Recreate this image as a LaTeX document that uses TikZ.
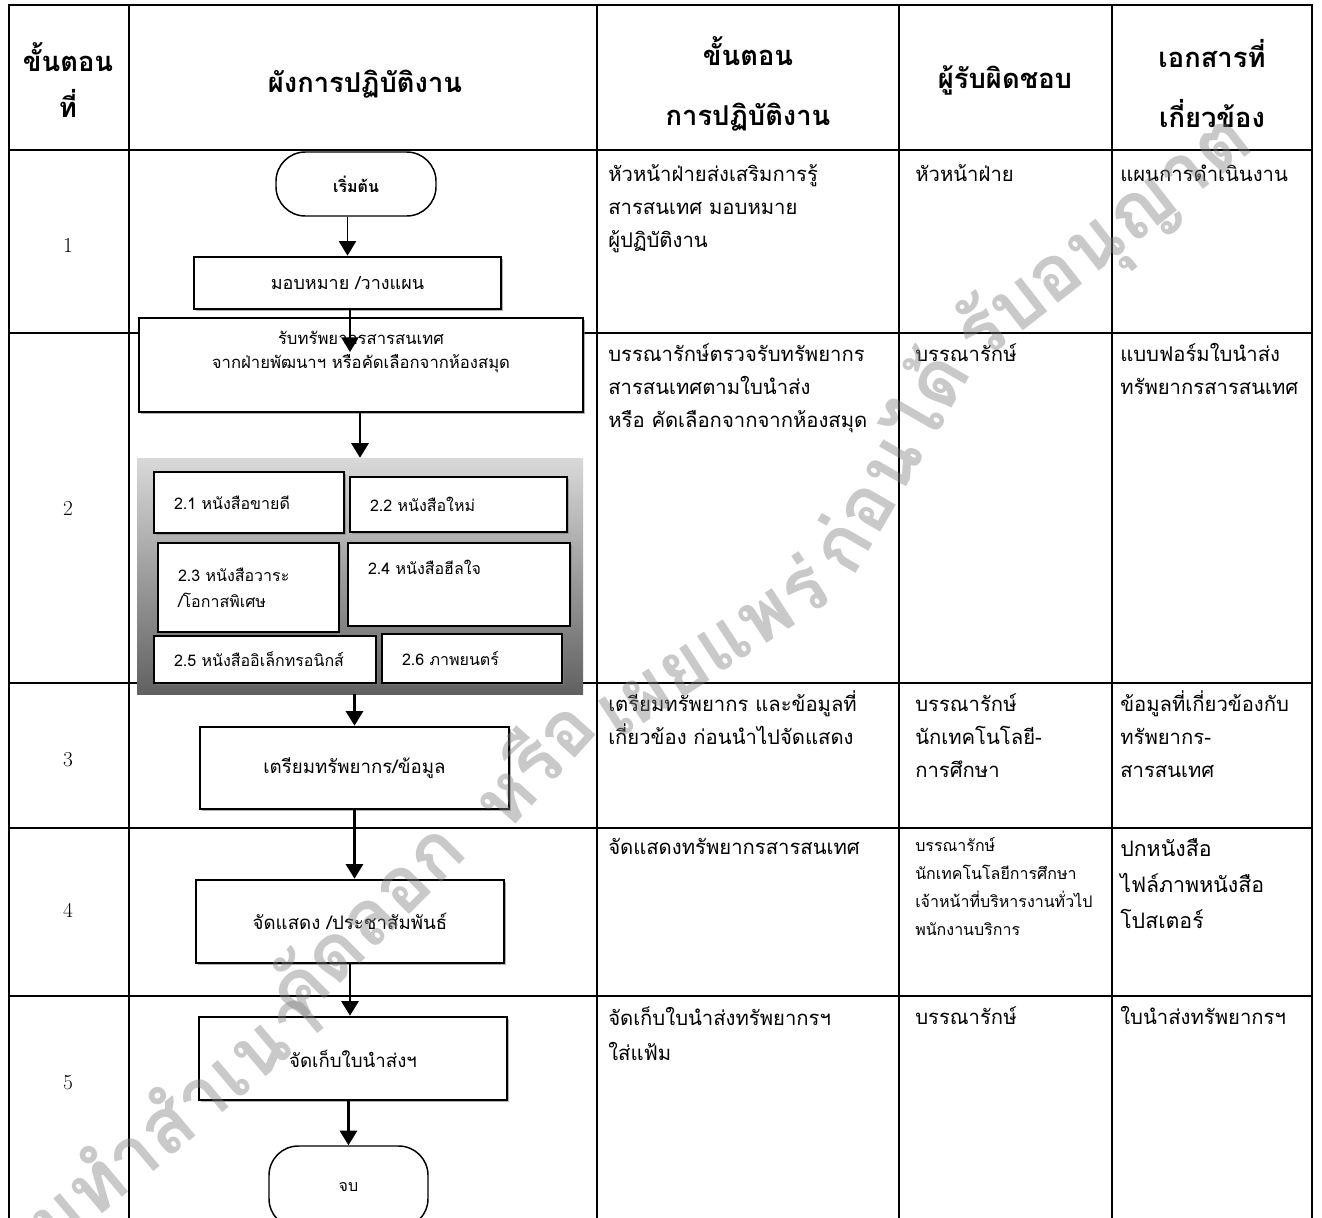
\documentclass[tikz,border=0pt]{standalone}
\usepackage{fontspec}
\newfontfamily\thaifont[Script=Thai]{Loma}
\usetikzlibrary{positioning,arrows.meta,shadows}
\newcommand{\pxu}{0.75pt}

\begin{document}
\begin{tikzpicture}[
      x=0.75pt, y=-0.75pt,
      >={Triangle[width=13pt,length=11pt]}
    ]

    \tikzstyle{tabline} = [line width=2.2pt]
    \tikzstyle{hdr} = [font=\thaifont\bfseries\fontsize{20.5}{34}\selectfont, align=center]
    \tikzstyle{stepno} = [font=\fontsize{16}{18}\selectfont]
    \tikzstyle{cell} = [anchor=north west, align=left, inner sep=0pt, font=\thaifont\fontsize{15.2}{24.75}\selectfont]
    \tikzstyle{cellsmall} = [cell, font=\thaifont\fontsize{12}{21}\selectfont]
    \tikzstyle{term} = [rectangle, rounded corners=22pt, draw=black, line width=1.1pt, fill=white, font=\thaifont\fontsize{12}{16}\selectfont]
    \tikzstyle{box} = [rectangle, draw=black, line width=2pt, fill=white, drop shadow={shadow xshift=1.5pt, shadow yshift=-1.5pt, opacity=0.6}, font=\thaifont\fontsize{13.5}{18}\selectfont, align=center]
    \tikzstyle{subbox} = [box, align=left, inner xsep=15pt, font=\thaifont\fontsize{12}{19.5}\selectfont]
    \tikzstyle{panel} = [rectangle, top color=black!15, bottom color=black!62, draw=none]
    \tikzstyle{arrow} = [->, line width=1.8pt]
    \tikzstyle{stamp} = [font=\thaifont\bfseries\fontsize{58}{60}\selectfont, text=black!50, opacity=0.42]

    \useasboundingbox (0,0) rectangle (1322,1218);
    \fill [white] (0,0) rectangle (1322,1218);

    % table
    \draw [tabline] (9,1240) -- (9,5) -- (1312,5) -- (1312,1240);
    \foreach \cx in {129,597,899,1112}
      \draw [tabline] (\cx,5) -- (\cx,1240);
    \foreach \ry in {150,333,683,828,996}
      \draw [tabline] (9,\ry) -- (1312,\ry);

    % header
    \node [hdr] (hstep) at (68,80) {ขั้นตอน\\ที่};
    \node [hdr] (hflow) at (365,84) {ผังการปฏิบัติงาน};
    \node [hdr] (hproc) at (748,84) {ขั้นตอน\\[11pt]การปฏิบัติงาน};
    \node [hdr] (hresp) at (1005,80) {ผู้รับผิดชอบ};
    \node [hdr] (hdocs) at (1212,84) {เอกสารที่\\[11pt]เกี่ยวข้อง};

    \node [stepno] (n1) at (68,245) {1};
    \node [stepno] (n2) at (68,508) {2};
    \node [stepno] (n3) at (68,760) {3};
    \node [stepno] (n4) at (68,910) {4};
    \node [stepno] (n5) at (68,1083) {5};

    % row 1
    \node [cell] (d1) at (608,158) {\strut หัวหน้าฝ่ายส่งเสริมการรู้\\สารสนเทศ มอบหมาย\\ผู้ปฏิบัติงาน};
    \node [cell] (r1) at (915,158) {\strut หัวหน้าฝ่าย};
    \node [cell] (f1) at (1120,158) {\strut แผนการดำเนินงาน};
    % row 2
    \node [cell] (d2) at (608,338) {\strut บรรณารักษ์ตรวจรับทรัพยากร\\สารสนเทศตามใบนำส่ง\\หรือ คัดเลือกจากจากห้องสมุด};
    \node [cell] (r2) at (915,338) {\strut บรรณารักษ์};
    \node [cell] (f2) at (1120,338) {\strut แบบฟอร์มใบนำส่ง\\ทรัพยากรสารสนเทศ};
    % row 3
    \node [cell] (d3) at (608,688) {\strut เตรียมทรัพยากร และข้อมูลที่\\เกี่ยวข้อง ก่อนนำไปจัดแสดง};
    \node [cell] (r3) at (915,688) {\strut บรรณารักษ์\\นักเทคโนโลยี-\\การศึกษา};
    \node [cell] (f3) at (1120,688) {\strut ข้อมูลที่เกี่ยวข้องกับ\\ทรัพยากร-\\สารสนเทศ};
    % row 4
    \node [cell] (d4) at (608,831) {\strut จัดแสดงทรัพยากรสารสนเทศ};
    \node [cellsmall] (r4) at (915,832) {\strut บรรณารักษ์\\นักเทคโนโลยีการศึกษา\\เจ้าหน้าที่บริหารงานทั่วไป\\พนักงานบริการ};
    \node [cell, font=\thaifont\fontsize{16}{27}\selectfont] (f4) at (1120,831) {\strut ปกหนังสือ\\ไฟล์ภาพหนังสือ\\โปสเตอร์};
    % row 5
    \node [cell, font=\thaifont\fontsize{15.2}{26}\selectfont] (d5) at (608,1001) {\strut จัดเก็บใบนำส่งทรัพยากรฯ\\ใส่แฟ้ม};
    \node [cell] (r5) at (915,1001) {\strut บรรณารักษ์};
    \node [cell] (f5) at (1120,1001) {\strut ใบนำส่งทรัพยากรฯ};

    % flow chart
    \node [term] (start) at (356,184) [minimum width=160*\pxu, minimum height=64*\pxu] {\bfseries เริ่มต้น};
    \node [box] (assign) at (347.5,283) [minimum width=307*\pxu, minimum height=52*\pxu] {มอบหมาย /วางแผน};
    \node [box] (receive) at (361,365) [minimum width=444*\pxu, minimum height=94*\pxu] {};
    \node [align=center, font=\thaifont\fontsize{12.5}{18}\selectfont] (receivetxt) at (361,352) {รับทรัพยากรสารสนเทศ\\จากฝ่ายพัฒนาฯ หรือคัดเลือกจากห้องสมุด};
    \coordinate (rtip) at (350,352);

    \node [panel] (panel) at (360,576) [minimum width=446*\pxu, minimum height=236*\pxu] {};
    \node [subbox] (b21) at (249,502.5) [minimum width=190*\pxu, minimum height=61*\pxu, text width=150*\pxu] {2.1 หนังสือขายดี};
    \node [subbox] (b22) at (458.5,504.5) [minimum width=217*\pxu, minimum height=55*\pxu, text width=177*\pxu] {2.2 หนังสือใหม่};
    \node [subbox] (b23) at (248.5,587.5) [minimum width=181*\pxu, minimum height=89*\pxu, text width=141*\pxu] {2.3 หนังสือวาระ\\/โอกาสพิเศษ};
    \node [subbox] (b24) at (459,584.5) [minimum width=222*\pxu, minimum height=83*\pxu, text width=182*\pxu] {2.4 หนังสือฮีลใจ\\\strut};
    \node [subbox] (b25) at (265,659.5) [minimum width=222*\pxu, minimum height=47*\pxu, text width=182*\pxu] {2.5 หนังสืออิเล็กทรอนิกส์};
    \node [subbox] (b26) at (472,658.5) [minimum width=180*\pxu, minimum height=49*\pxu, text width=140*\pxu] {2.6 ภาพยนตร์};

    \node [box] (prep) at (354.5,768) [minimum width=309*\pxu, minimum height=82*\pxu, font=\thaifont\fontsize{14}{18}\selectfont] {เตรียมทรัพยากร/ข้อมูล};
    \node [box] (show) at (350,921.5) [minimum width=308*\pxu, minimum height=83*\pxu, font=\thaifont\fontsize{14}{18}\selectfont] {จัดแสดง /ประชาสัมพันธ์};
    \node [box] (keep) at (353,1058.5) [minimum width=308*\pxu, minimum height=83*\pxu, font=\thaifont\fontsize{14}{18}\selectfont] {จัดเก็บใบนำส่งฯ};
    \node [term] (stop) at (348.5,1187) [minimum width=159*\pxu, minimum height=82*\pxu] {จบ};

    \draw [arrow, line width=1.2pt] (start.south -| assign.north) -- (assign.north);
    \draw [arrow, line width=1.2pt] (assign.south -| rtip) -- (rtip);
    \draw [arrow] (receive.south -| panel.north) -- (panel.north);
    \draw [arrow] (panel.south -| prep.north) -- (prep.north);
    \draw [arrow] (prep.south) -- (prep.south |- show.north);
    \draw [arrow] (show.south) -- (show.south |- keep.north);
    \draw [arrow] (keep.south -| stop.north) -- (stop.north);

    % watermark
    \node [stamp, rotate=40] (wm1) at (135,1145) {ห้ามทำสำเนา};
    \node [stamp, rotate=45] (wm2) at (362,918) {คัดลอก};
    \node [stamp, rotate=48] (wm3) at (530,760) {หรือ};
    \node [stamp, rotate=33] (wm4) at (710,645) {เผยแพร่};
    \node [stamp, rotate=60] (wm5) at (885,460) {ก่อนได้};
    \node [stamp, rotate=38] (wm6) at (1105,240) {รับอนุญาต};

\end{tikzpicture}
\end{document}
